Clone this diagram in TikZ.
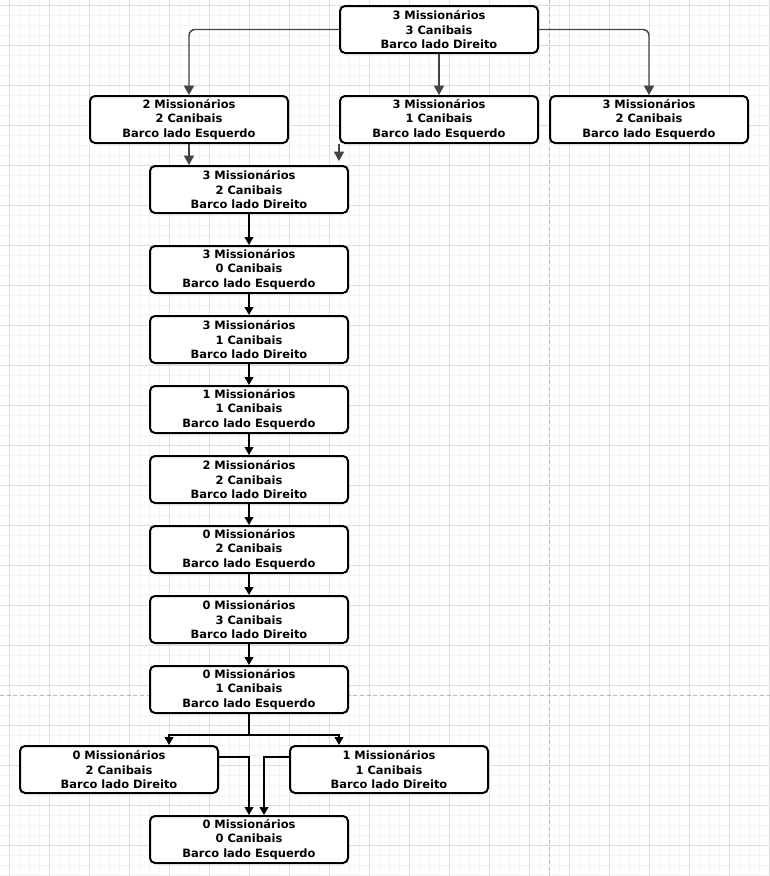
\documentclass[tikz,border=0pt]{standalone}
\usepackage{fontspec}
\setmainfont{DejaVu Sans}
\usetikzlibrary{arrows.meta}
\definecolor{gridmajor}{HTML}{DEDEDE}
\definecolor{gridminor}{HTML}{F4F4F4}
\definecolor{pagebreak}{HTML}{B8B8B8}
\definecolor{linkgray}{HTML}{444444}
\tikzset{
  state/.style={draw=black, line width=1.5pt, fill=white, rounded corners=3.75pt,
    minimum width=148.5pt, minimum height=35.25pt, align=center, inner sep=0pt,
    font=\fontsize{8.6}{10.9}\selectfont\bfseries},
  flow/.style={draw=black, line width=1.5pt, -{Triangle[length=6pt,width=6.5pt]}},
  branch/.style={draw=linkgray, line width=1.1pt, -{Triangle[length=7pt,width=7.5pt]},
    rounded corners=4.5pt},
}
\begin{document}
\begin{tikzpicture}[x=0.75pt,y=-0.75pt]
  % canvas and grid
  \useasboundingbox (0,0) rectangle (770,876);
  \fill[white] (0,0) rectangle (770,876);
  \foreach \x in {9,19,...,769} \draw[gridminor, line width=0.75pt] (\x,0) -- (\x,876);
  \foreach \y in {5,15,...,875} \draw[gridminor, line width=0.75pt] (0,\y) -- (770,\y);
  \foreach \x in {9,49,...,769} \draw[gridmajor, line width=0.75pt] (\x,0) -- (\x,876);
  \foreach \y in {5,45,...,845} \draw[gridmajor, line width=0.75pt] (0,\y) -- (770,\y);
  % page breaks
  \draw[pagebreak, line width=0.75pt, dash pattern=on 3pt off 2pt] (549,0) -- (549,876);
  \draw[pagebreak, line width=0.75pt, dash pattern=on 3pt off 2pt] (0,695) -- (770,695);

  % states
  \node[state] (s0) at (439,29.5)  {3 Missionários\\3 Canibais\\Barco lado Direito};
  \node[state] (a1) at (189,119.5) {2 Missionários\\2 Canibais\\Barco lado Esquerdo};
  \node[state] (a2) at (439,119.5) {3 Missionários\\1 Canibais\\Barco lado Esquerdo};
  \node[state] (a3) at (649,119.5) {3 Missionários\\2 Canibais\\Barco lado Esquerdo};
  \node[state] (s1) at (249,189.5) {3 Missionários\\2 Canibais\\Barco lado Direito};
  \node[state] (s2) at (249,269.5) {3 Missionários\\0 Canibais\\Barco lado Esquerdo};
  \node[state] (s3) at (249,339.5) {3 Missionários\\1 Canibais\\Barco lado Direito};
  \node[state] (s4) at (249,409.5) {1 Missionários\\1 Canibais\\Barco lado Esquerdo};
  \node[state] (s5) at (249,479.5) {2 Missionários\\2 Canibais\\Barco lado Direito};
  \node[state] (s6) at (249,549.5) {0 Missionários\\2 Canibais\\Barco lado Esquerdo};
  \node[state] (s7) at (249,619.5) {0 Missionários\\3 Canibais\\Barco lado Direito};
  \node[state] (s8) at (249,689.5) {0 Missionários\\1 Canibais\\Barco lado Esquerdo};
  \node[state] (b1) at (119,769.5) {0 Missionários\\2 Canibais\\Barco lado Direito};
  \node[state] (b2) at (389,769.5) {1 Missionários\\1 Canibais\\Barco lado Direito};
  \node[state] (goal) at (249,839.5) {0 Missionários\\0 Canibais\\Barco lado Esquerdo};

  % first moves
  \draw[branch] (s0.west) -| (a1.north);
  \draw[branch] (s0) -- (a2);
  \draw[branch] (s0.east) -| (a3.north);
  \draw[branch] (a1.south) -- (a1.south |- s1.north);
  \coordinate (dangle) at (339,161);
  \draw[branch] (a2.south west) -- (a2.south west |- dangle);

  % main chain
  \draw[flow] (s1) -- (s2);
  \draw[flow] (s2) -- (s3);
  \draw[flow] (s3) -- (s4);
  \draw[flow] (s4) -- (s5);
  \draw[flow] (s5) -- (s6);
  \draw[flow] (s6) -- (s7);
  \draw[flow] (s7) -- (s8);

  % final split and merge
  \coordinate (j) at (249,734.5);
  \draw[line width=1.5pt] (s8.south) -- (j);
  \draw[flow] (j) -| ([xshift=37.5pt]b1.north);
  \draw[flow] (j) -| ([xshift=-37.5pt]b2.north);
  \draw[flow] ([yshift=9.375pt]b1.east) -| (goal.north);
  \draw[flow] ([yshift=9.375pt]b2.west) -| ([xshift=11.25pt]goal.north);
\end{tikzpicture}
\end{document}
